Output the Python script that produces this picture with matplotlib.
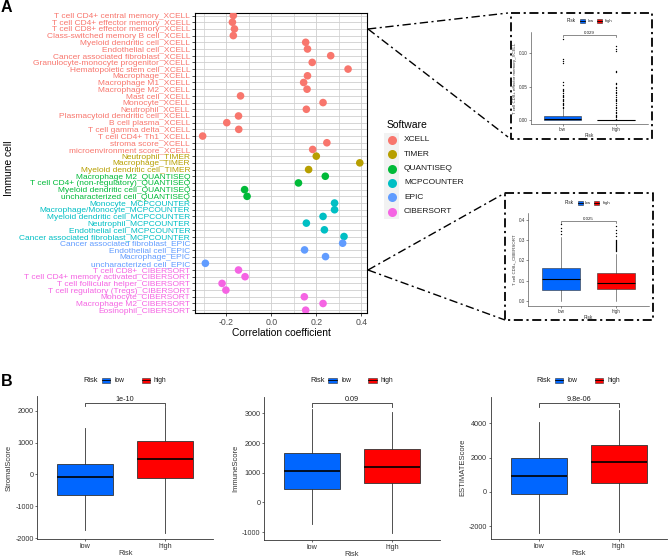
import matplotlib
matplotlib.use("Agg")
import matplotlib.pyplot as plt
from matplotlib.patches import Rectangle
from matplotlib.lines import Line2D

plt.rcParams['font.family'] = ['Liberation Sans', 'DejaVu Sans']
plt.rcParams['axes.unicode_minus'] = False

W, H = 668, 558

# ---------------- Panel A data ----------------
cell_labels = [
    "T cell CD4+ central memory_XCELL", "T cell CD4+ effector memory_XCELL",
    "T cell CD8+ effector memory_XCELL", "Class-switched memory B cell_XCELL",
    "Myeloid dendritic cell_XCELL", "Endothelial cell_XCELL",
    "Cancer associated fibroblast_XCELL", "Granulocyte-monocyte progenitor_XCELL",
    "Hematopoietic stem cell_XCELL", "Macrophage_XCELL", "Macrophage M1_XCELL",
    "Macrophage M2_XCELL", "Mast cell_XCELL", "Monocyte_XCELL", "Neutrophil_XCELL",
    "Plasmacytoid dendritic cell_XCELL", "B cell plasma_XCELL",
    "T cell gamma delta_XCELL", "T cell CD4+ Th1_XCELL", "stroma score_XCELL",
    "microenvironment score_XCELL",
    "Neutrophil_TIMER", "Macrophage_TIMER", "Myeloid dendritic cell_TIMER",
    "Macrophage M2_QUANTISEQ", "T cell CD4+ (non-regulatory)_QUANTISEQ",
    "Myeloid dendritic cell_QUANTISEQ", "uncharacterized cell_QUANTISEQ",
    "Monocyte_MCPCOUNTER", "Macrophage/Monocyte_MCPCOUNTER",
    "Myeloid dendritic cell_MCPCOUNTER", "Neutrophil_MCPCOUNTER",
    "Endothelial cell_MCPCOUNTER", "Cancer associated fibroblast_MCPCOUNTER",
    "Cancer associated fibroblast_EPIC", "Endothelial cell_EPIC", "Macrophage_EPIC",
    "uncharacterized cell_EPIC",
    "T cell CD8+_CIBERSORT", "T cell CD4+ memory activated_CIBERSORT",
    "T cell follicular helper_CIBERSORT", "T cell regulatory (Tregs)_CIBERSORT",
    "Monocyte_CIBERSORT", "Macrophage M2_CIBERSORT", "Eosinophil_CIBERSORT",
]
corr = [
    -0.168, -0.172, -0.163, -0.168, 0.153, 0.161, 0.264, 0.182, 0.341, 0.161,
    0.144, 0.159, -0.136, 0.230, 0.156, -0.145, -0.197, -0.144, -0.304, 0.247,
    0.184,
    0.200, 0.393, 0.166,
    0.240, 0.121, -0.118, -0.107,
    0.281, 0.281, 0.230, 0.156, 0.236, 0.323,
    0.317, 0.148, 0.241, -0.292,
    -0.145, -0.116, -0.218, -0.201, 0.147, 0.230, 0.153,
]
sw_names = ['XCELL', 'TIMER', 'QUANTISEQ', 'MCPCOUNTER', 'EPIC', 'CIBERSORT']
sw_colors = ['#F8766D', '#B79F00', '#00BA38', '#00BFC4', '#619CFF', '#F564E3']

# ---------------- Panel B data ----------------
risk_groups = ['low', 'high']
risk_colors = ['#0066FF', '#FF0000']
# [whislo, q1, median, q3, whishi]
stromal_low = [-1735, -632, -72, 333, 1455]
stromal_high = [-1817, -125, 477, 1037, 2127]
immune_low = [-728, 446, 1050, 1680, 3154]
immune_high = [-1040, 638, 1195, 1800, 3050]
estimate_low = [-2425, -152, 915, 2000, 4100]
estimate_high = [-2332, 525, 1743, 2750, 4800]
score_names = ['StromalScore', 'ImmuneScore', 'ESTIMATEScore']
score_pvals = ['1e-10', '0.09', '9.8e-06']

# insets
cd8em_low = [0.0, 0.0, 0.001, 0.0065, 0.016]
cd8em_high = [0.0, 0.0, 0.0, 0.0, 0.0]
cd8em_low_out = [0.121, 0.091, 0.0885, 0.085, 0.0575, 0.0525, 0.047, 0.045, 0.043,
                 0.040, 0.038, 0.036, 0.034, 0.032, 0.030, 0.028, 0.026, 0.024,
                 0.022, 0.020, 0.018]
cd8em_high_out = [0.110, 0.106, 0.1025, 0.0725, 0.071, 0.056, 0.0535, 0.050, 0.0475,
                  0.045, 0.042, 0.040, 0.038, 0.035, 0.032, 0.030, 0.028, 0.025,
                  0.022, 0.020, 0.018, 0.015, 0.012, 0.010, 0.008, 0.006, 0.004, 0.002]
cd8_low = [0.0, 0.054, 0.108, 0.161, 0.316]
cd8_high = [0.0, 0.058, 0.090, 0.136, 0.232]
cd8_low_out = [0.33, 0.345, 0.36, 0.38]
cd8_high_out = [0.245, 0.25, 0.255, 0.26, 0.265, 0.27, 0.275, 0.28, 0.285, 0.29,
                0.295, 0.30, 0.32, 0.335, 0.35, 0.37]

fig = plt.figure(figsize=(W / 100, H / 100), dpi=100)


def px_axes(l, t, r, b):
    return fig.add_axes([l / W, 1 - b / H, (r - l) / W, (b - t) / H])


def ftext(x, y, s, **kw):
    fig.text(x / W, 1 - y / H, s, **kw)


def fline(xs, ys, **kw):
    fig.add_artist(Line2D([x / W for x in xs], [1 - y / H for y in ys],
                          transform=fig.transFigure, **kw))


def frect(x, y, w, h, **kw):
    fig.add_artist(Rectangle((x / W, 1 - (y + h) / H), w / W, h / H,
                             transform=fig.transFigure, **kw))


# ---------------- Panel A ----------------
ax = px_axes(195, 12.7, 367, 313)
n = len(cell_labels)
rows = list(range(n))
row_sw = [lab.rsplit('_', 1)[1] for lab in cell_labels]
row_col = [sw_colors[sw_names.index(s)] for s in row_sw]
ax.scatter(corr, rows, s=30, c=row_col, zorder=3, linewidths=0)
ax.set_ylim(n - 1 + 0.42, -0.42)
ax.set_xlim(-0.338, 0.425)
ax.set_yticks(rows)
ax.set_yticklabels(cell_labels, fontsize=6.0)
for t, c in zip(ax.get_yticklabels(), row_col):
    t.set_color(c)
ax.set_xticks([-0.2, 0.0, 0.2, 0.4])
ax.set_xticklabels(['-0.2', '0.0', '0.2', '0.4'], fontsize=6.3, color='#4D4D4D')
ax.set_xticks([-0.3, -0.1, 0.1, 0.3], minor=True)
ax.grid(True, which='major', color='#CFCFCF', linewidth=0.6)
ax.grid(True, which='minor', axis='x', color='#CFCFCF', linewidth=0.5)
ax.set_axisbelow(True)
ax.tick_params(axis='both', length=2, width=0.5, pad=1.5)
ax.tick_params(axis='x', which='minor', length=0)
for sp in ax.spines.values():
    sp.set_linewidth(0.8)
ftext(281, 333, 'Correlation coefficient', fontsize=7.4, ha='center', va='center')
ftext(9, 168, 'Immune cell', fontsize=7.4, ha='center', va='center', rotation=90)
ftext(1, 8, 'A', fontsize=11.5, fontweight='bold', ha='left', va='center')
ftext(1, 381, 'B', fontsize=11.5, fontweight='bold', ha='left', va='center')

# software legend
ftext(387, 125, 'Software', fontsize=7.5, ha='left', va='center')
frect(384, 133, 15, 86, facecolor='#F2F2F2', edgecolor='none')
for i, (nm, c) in enumerate(zip(sw_names, sw_colors)):
    yy = 140 + 14.3 * i
    fig.add_artist(Line2D([391.5 / W], [1 - yy / H], marker='o', markersize=6.5,
                          color=c, markeredgewidth=0, transform=fig.transFigure))
    ftext(404, yy, nm, fontsize=6, ha='left', va='center', color='#1A1A1A')

# dash-dot connectors and inset frames
dd = dict(color='black', linewidth=1.0, linestyle=(0, (6, 2.5, 1.5, 2.5)))
fline([368, 508], [29, 13], **dd)
fline([368, 508], [29, 137], **dd)
fline([368, 505], [270, 193], **dd)
fline([368, 505], [270, 320], **dd)
ddb = dict(color='black', linewidth=1.3, linestyle=(0, (5, 2, 1.2, 2)))
fline([511, 652, 652, 511, 511], [13, 13, 139, 139, 13], **ddb)
fline([505, 653, 653, 505, 505], [193, 193, 320, 320, 193], **ddb)


# ---------------- box helpers ----------------
def draw_box(ax, s_low, s_high, out_low=(), out_high=(), lw=0.6, ms=1.5):
    stats = []
    for s, o, lab in [(s_low, out_low, 'low'), (s_high, out_high, 'high')]:
        stats.append(dict(whislo=s[0], q1=s[1], med=s[2], q3=s[3], whishi=s[4],
                          fliers=list(o), label=lab))
    b = ax.bxp(stats, positions=[1, 2], widths=0.7, patch_artist=True, showcaps=False,
               boxprops=dict(linewidth=lw, edgecolor='#333333'),
               medianprops=dict(color='black', linewidth=lw * 2),
               whiskerprops=dict(color='#333333', linewidth=lw),
               flierprops=dict(marker='o', markersize=ms, markerfacecolor='black',
                               markeredgecolor='none'))
    for patch, c in zip(b['boxes'], risk_colors):
        patch.set_facecolor(c)
    ax.set_xlim(0.4, 2.6)
    ax.set_xticks([1, 2])
    ax.set_xticklabels(risk_groups)
    for side in ['top', 'right']:
        ax.spines[side].set_visible(False)
    for side in ['left', 'bottom']:
        ax.spines[side].set_linewidth(lw)
        ax.spines[side].set_color('#333333')


def bracket(ax, y, tip, label, fs, lw):
    ax.plot([1, 1, 2, 2], [tip, y, y, tip], color='#333333', linewidth=lw, clip_on=False)
    ax.text(1.5, y, label, ha='center', va='bottom', fontsize=fs, color='#1A1A1A')


def risk_legend(y, xs, kw, kh, fs):
    x_risk, x_k1, x_low, x_k2, x_high = xs
    ftext(x_risk, y, 'Risk', fontsize=fs, ha='left', va='center', color='#1A1A1A')
    for xk, c in [(x_k1, risk_colors[0]), (x_k2, risk_colors[1])]:
        frect(xk, y - kh / 2, kw, kh, facecolor=c, edgecolor='#333333', linewidth=0.4)
        fline([xk, xk + kw], [y, y], color='black', linewidth=0.6)
    ftext(x_low, y, 'low', fontsize=fs * 0.9, ha='left', va='center', color='#1A1A1A')
    ftext(x_high, y, 'high', fontsize=fs * 0.9, ha='left', va='center', color='#1A1A1A')


# ---------------- Panel B ----------------
b_specs = [
    (37.3, 213, 539, (-2020, 2440), [-2000, -1000, 0, 1000, 2000], stromal_low, stromal_high, 2252),
    (264, 440, 540, (-1265, 3567), [-1000, 0, 1000, 2000, 3000], immune_low, immune_high, 3356),
    (490.7, 666.7, 539, (-2759, 5580), [-2000, 0, 2000, 4000], estimate_low, estimate_high, 5189),
]
for i, (l, r, b, yl, yt, s_low, s_high, by) in enumerate(b_specs):
    axb = px_axes(l, 396.5, r, b)
    draw_box(axb, s_low, s_high, lw=0.6)
    axb.set_ylim(*yl)
    axb.set_yticks(yt)
    axb.set_yticklabels([str(v) for v in yt])
    axb.tick_params(labelsize=5.2, length=1.6, width=0.5, pad=1, colors='#333333',
                    labelcolor='#333333')
    axb.set_xlabel('Risk', fontsize=5.3, labelpad=0, color='#333333')
    axb.set_ylabel(score_names[i], fontsize=5.5, labelpad=2, color='#333333')
    tip = by - 0.028 * (yl[1] - yl[0])
    bracket(axb, by, tip, score_pvals[i], 5.2, 0.6)
    off = l - 37.3
    risk_legend(380, [83.3 + off, 101.7 + off, 114.3 + off, 141.7 + off, 154 + off],
                8.3, 5, 5.3)

# ---------------- insets ----------------
ax1 = px_axes(530.7, 31.7, 648, 124)
draw_box(ax1, cd8em_low, cd8em_high, cd8em_low_out, cd8em_high_out, lw=0.4, ms=1.0)
ax1.set_ylim(-0.006, 0.132)
ax1.set_yticks([0.0, 0.05, 0.10])
ax1.set_yticklabels(['0.00', '0.05', '0.10'])
ax1.tick_params(labelsize=3.3, length=1.2, width=0.4, pad=1, colors='#333333')
ax1.set_xlabel('Risk', fontsize=3.4, labelpad=0.8, color='#333333')
ax1.set_ylabel('T cell CD8+ effector memory_XCELL', fontsize=3.2, labelpad=1.5,
               color='#333333')
bracket(ax1, 0.1275, 0.1235, '0.029', 3.2, 0.4)
risk_legend(21, [566.7, 580, 587.3, 596.7, 605], 5, 3.2, 3.3)

ax2 = px_axes(528.3, 213, 649, 306)
draw_box(ax2, cd8_low, cd8_high, cd8_low_out, cd8_high_out, lw=0.4, ms=1.0)
ax2.set_ylim(-0.025, 0.433)
ax2.set_yticks([0.0, 0.1, 0.2, 0.3, 0.4])
ax2.set_yticklabels(['0.0', '0.1', '0.2', '0.3', '0.4'])
ax2.tick_params(labelsize=3.3, length=1.2, width=0.4, pad=1, colors='#333333')
ax2.set_xlabel('Risk', fontsize=3.4, labelpad=0.8, color='#333333')
ax2.set_ylabel('T cell CD8+_CIBERSORT', fontsize=3.2, labelpad=1.5, color='#333333')
bracket(ax2, 0.395, 0.383, '0.025', 3.2, 0.4)
risk_legend(203, [564.3, 577.6, 584.9, 594.3, 602.6], 5, 3.2, 3.3)

fig.savefig('out.png', dpi=100)
